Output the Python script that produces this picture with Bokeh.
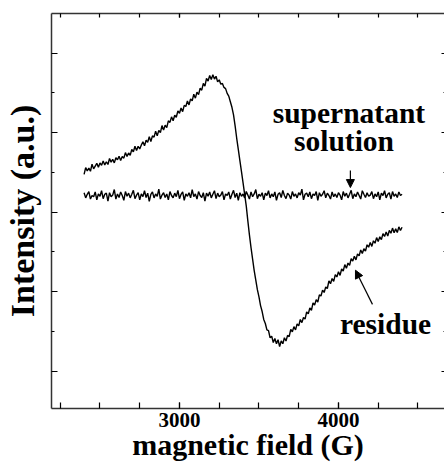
from bokeh.plotting import figure
from bokeh.models import (Range1d, LinearAxis, FixedTicker, SingleIntervalTicker,
                          Label, Arrow, NormalHead)
from bokeh.embed import file_html
from bokeh.resources import INLINE

# ---- data ----
field = list(range(2400, 4401, 10))  # G, sweep grid

residue = [
    5.95, 6.12, 6.04, 6.11, 6.03, 6.21, 6.09, 6.16, 6.23, 6.13,
    6.24, 6.18, 6.29, 6.19, 6.27, 6.20, 6.35, 6.26, 6.33, 6.24,
    6.37, 6.32, 6.41, 6.30, 6.40, 6.36, 6.50, 6.40, 6.49, 6.43,
    6.58, 6.52, 6.66, 6.55, 6.66, 6.59, 6.69, 6.77, 6.67, 6.81,
    6.76, 6.90, 6.78, 6.92, 6.89, 7.04, 6.92, 7.06, 7.00, 7.18,
    7.07, 7.19, 7.13, 7.30, 7.26, 7.40, 7.30, 7.44, 7.39, 7.55,
    7.49, 7.62, 7.53, 7.69, 7.66, 7.80, 7.70, 7.85, 7.80, 7.97,
    7.87, 8.02, 7.96, 8.12, 8.07, 8.24, 8.17, 8.37, 8.30, 8.44,
    8.34, 8.46, 8.35, 8.42, 8.28, 8.33, 8.22, 8.24, 8.14, 8.11,
    7.99, 7.92, 7.78, 7.64, 7.45, 7.17, 6.86, 6.58, 6.30, 6.02,
    5.74, 5.45, 5.16, 4.78, 4.43, 4.11, 3.82, 3.53, 3.29, 3.05,
    2.87, 2.65, 2.50, 2.30, 2.20, 2.04, 2.02, 1.84, 1.88, 1.72,
    1.82, 1.69, 1.79, 1.62, 1.76, 1.69, 1.84, 1.76, 1.90, 1.87,
    2.05, 1.99, 2.12, 2.04, 2.19, 2.14, 2.30, 2.22, 2.35, 2.31,
    2.49, 2.44, 2.59, 2.53, 2.72, 2.66, 2.80, 2.74, 2.92, 2.89,
    3.04, 2.98, 3.12, 3.08, 3.27, 3.20, 3.33, 3.26, 3.43, 3.37,
    3.50, 3.41, 3.57, 3.52, 3.68, 3.59, 3.72, 3.66, 3.83, 3.77,
    3.89, 3.80, 3.95, 3.90, 4.05, 3.96, 4.08, 4.02, 4.18, 4.12,
    4.24, 4.14, 4.28, 4.22, 4.36, 4.26, 4.38, 4.31, 4.46, 4.39,
    4.50, 4.40, 4.54, 4.47, 4.60, 4.48, 4.58, 4.49, 4.63, 4.54,
    4.62,
]

supernatant = [
    5.49, 5.36, 5.45, 5.52, 5.33, 5.42, 5.39, 5.51, 5.31, 5.46,
    5.40, 5.54, 5.34, 5.45, 5.48, 5.28, 5.49, 5.39, 5.43, 5.57,
    5.33, 5.46, 5.37, 5.51, 5.42, 5.30, 5.52, 5.40, 5.48, 5.36,
    5.45, 5.55, 5.34, 5.43, 5.49, 5.31, 5.46, 5.39, 5.54, 5.37,
    5.48, 5.27, 5.45, 5.51, 5.36, 5.46, 5.40, 5.58, 5.33, 5.43,
    5.49, 5.37, 5.46, 5.31, 5.52, 5.42, 5.36, 5.48, 5.39, 5.55,
    5.34, 5.45, 5.51, 5.30, 5.46, 5.40, 5.49, 5.36, 5.57, 5.39,
    5.46, 5.33, 5.52, 5.42, 5.37, 5.49, 5.28, 5.48, 5.40, 5.51,
    5.36, 5.45, 5.54, 5.34, 5.48, 5.39, 5.43, 5.52, 5.31, 5.46,
    5.42, 5.51, 5.33, 5.45, 5.55, 5.37, 5.48, 5.30, 5.49, 5.40,
    5.46, 5.36, 5.52, 5.43, 5.33, 5.51, 5.39, 5.46, 5.57, 5.34,
    5.45, 5.40, 5.49, 5.31, 5.48, 5.42, 5.54, 5.36, 5.46, 5.39,
    5.51, 5.30, 5.45, 5.49, 5.37, 5.55, 5.42, 5.34, 5.48, 5.43,
    5.33, 5.52, 5.40, 5.46, 5.36, 5.49, 5.43, 5.58, 5.31, 5.45,
    5.48, 5.39, 5.51, 5.34, 5.46, 5.42, 5.52, 5.30, 5.49, 5.40,
    5.45, 5.54, 5.36, 5.48, 5.42, 5.33, 5.51, 5.39, 5.46, 5.37,
    5.49, 5.43, 5.31, 5.52, 5.40, 5.48, 5.36, 5.45, 5.55, 5.34,
    5.46, 5.39, 5.51, 5.42, 5.33, 5.54, 5.45, 5.37, 5.49, 5.40,
    5.43, 5.52, 5.34, 5.46, 5.39, 5.51, 5.31, 5.48, 5.42, 5.54,
    5.36, 5.45, 5.49, 5.33, 5.52, 5.40, 5.46, 5.37, 5.51, 5.42,
    5.45,
]

x_label = "magnetic field (G)"
y_label = "Intensity (a.u.)"

FONT = "Liberation Serif, Times New Roman, Times, serif"

p = figure(width=444, height=464, output_backend="svg", toolbar_location=None,
           x_axis_location=None, y_axis_location=None,
           x_range=Range1d(2195, 4667), y_range=Range1d(0.06, 10),
           min_border_left=51, min_border_right=0, min_border_top=13,
           min_border_bottom=56)
p.outline_line_color = None
p.grid.visible = False
p.background_fill_color = "white"
p.border_fill_color = "white"

def hide_labels(ax):
    ax.major_label_text_font_size = "0px"
    ax.major_label_text_color = None
    ax.major_label_standoff = 0

def style_x(ax, show_labels, tick_len):
    ax.ticker = SingleIntervalTicker(interval=1000, num_minor_ticks=4)
    ax.major_tick_in = tick_len
    ax.major_tick_out = 0
    ax.minor_tick_in = tick_len
    ax.minor_tick_out = 0
    ax.axis_line_color = "#333333"
    ax.axis_line_width = 1.5
    ax.major_tick_line_width = 1.2
    ax.minor_tick_line_width = 1.2
    ax.major_tick_line_color = "black"
    ax.minor_tick_line_color = "black"
    if show_labels:
        ax.major_label_text_font = FONT
        ax.major_label_text_font_style = "bold"
        ax.major_label_text_font_size = "21px"
        ax.major_label_text_color = "black"
        ax.major_label_standoff = 4
    else:
        hide_labels(ax)

def style_y(ax, major_len, minor_len):
    ax.ticker = FixedTicker(ticks=[1, 3, 5, 7, 9], minor_ticks=[2, 4, 6, 8])
    ax.major_tick_in = major_len
    ax.major_tick_out = 0
    ax.minor_tick_in = minor_len
    ax.minor_tick_out = 0
    ax.axis_line_color = "#333333"
    ax.axis_line_width = 1.5
    ax.major_tick_line_width = 1.2
    ax.minor_tick_line_width = 1.2
    hide_labels(ax)

xb = LinearAxis(axis_label=x_label)
style_x(xb, True, 6)
xb.axis_label_text_font = FONT
xb.axis_label_text_font_style = "bold"
xb.axis_label_text_font_size = "30px"
xb.axis_label_text_color = "black"
xb.axis_label_standoff = -2
p.add_layout(xb, "below")

xt = LinearAxis()
style_x(xt, False, 4)
p.add_layout(xt, "above")

yl = LinearAxis(axis_label=y_label)
style_y(yl, 6, 3)
yl.axis_label_text_font = FONT
yl.axis_label_text_font_style = "bold"
yl.axis_label_text_font_size = "34px"
yl.axis_label_text_color = "black"
yl.axis_label_standoff = 11
p.add_layout(yl, "left")

yr = LinearAxis()
style_y(yr, 3, 1)
yr.axis_line_color = None
p.add_layout(yr, "right")

p.line(field, supernatant, line_color="black", line_width=1.4)
p.line(field, residue, line_color="black", line_width=1.4)

def lab(x, y, t):
    p.add_layout(Label(x=x, y=y, text=t, text_font=FONT, text_font_style="bold",
                       text_font_size="29.5px", text_align="center",
                       text_baseline="middle", text_color="black"))

lab(4066, 7.49, "supernatant")
lab(4035, 6.78, "solution")
lab(4296, 2.18, "residue")

p.add_layout(Arrow(end=NormalHead(size=8, fill_color="black", line_color="black"),
                   x_start=4075, y_start=6.05, x_end=4075, y_end=5.62,
                   line_color="black", line_width=1.2))
p.add_layout(Arrow(end=NormalHead(size=8, fill_color="black", line_color="black"),
                   x_start=4214, y_start=2.68, x_end=4107, y_end=3.54,
                   line_color="black", line_width=1.2))

open("out.html", "w").write(file_html(p, INLINE))
